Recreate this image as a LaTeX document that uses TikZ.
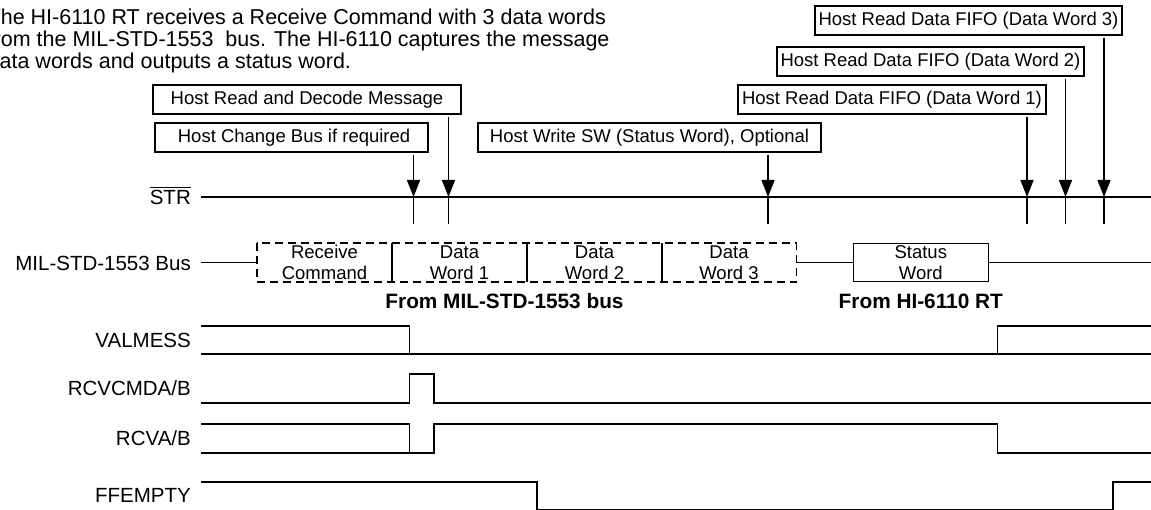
\documentclass[tikz,border=0pt]{standalone}
\usepackage{fontspec}
\setmainfont{Liberation Sans}
\usetikzlibrary{arrows.meta}
\newcommand\capfont{\fontsize{21.5}{22.2}\selectfont}
\newcommand\boxfont{\fontsize{18.5}{21}\selectfont}
\newcommand\sigfont{\fontsize{20.5}{22}\selectfont}
\newcommand\fromfont{\fontsize{20.8}{22}\selectfont\bfseries}
\newcommand\strbar[1]{\vbox{\hrule height 1.3pt\kern 1.6pt\hbox{#1}}}
\tikzset{
    % Text styles
    captext/.style={anchor=north west,align=left,inner sep=0pt,font=\capfont},
    siglabel/.style={anchor=east,inner sep=0pt,text height=14.7pt,text depth=0pt,font=\sigfont},
    fromlabel/.style={inner sep=0pt,font=\fromfont},
    % Boxes
    hostbox/.style={draw,line width=1.4pt,inner sep=0pt,minimum height=29pt,font=\boxfont},
    wordbox/.style={inner sep=0pt,minimum width=135pt,minimum height=38.4pt,align=center,font=\boxfont},
    % Lines
    wave/.style={line width=1.5pt,line join=miter},
    dashbox/.style={line width=1.5pt,dash pattern=on 8pt off 5pt},
    hostarrow/.style={-{Triangle[width=13pt,length=17pt]},line width=1.5pt,shorten <=2pt}
}
\begin{document}
\begin{tikzpicture}[x=1pt,y=-1pt]
    % Page
    \path[use as bounding box,fill=white] (0,0) rectangle (1151,510);

    % Description
    \node[captext] (caption) at (-12.5,8.6) {The HI-6110 RT receives a Receive Command with 3 data words\\from the MIL-STD-1553~ bus. The HI-6110 captures the message\\data words and outputs a status word.};

    % Host actions
    \node[hostbox,minimum width=308pt] (hostDecode) at (307,99.5) {Host Read and Decode Message};
    \node[hostbox,minimum width=273pt] (hostChg) at (291.5,137.5) {\ Host Change Bus if required};
    \node[hostbox,minimum width=343pt] (hostWrSW) at (649.5,137.5) {Host Write SW (Status Word), Optional};
    \node[hostbox,minimum width=308pt] (hostRd1) at (892,99.5) {Host Read Data FIFO (Data Word 1)};
    \node[hostbox,minimum width=307pt] (hostRd2) at (930.5,61.5) {Host Read Data FIFO (Data Word 2)};
    \node[hostbox,minimum width=307pt] (hostRd3) at (968.5,20.5) {Host Read Data FIFO (Data Word 3)};

    % Signal names
    \node[siglabel] (lblSTR) at (191,197) {\strbar{STR}};
    \node[siglabel] (lblBus) at (191,263) {MIL-STD-1553 Bus};
    \node[siglabel] (lblValmess) at (191,340) {VALMESS};
    \node[siglabel] (lblRcvCmd) at (191,388.5) {RCVCMDA/B};
    \node[siglabel] (lblRcv) at (191,438.5) {RCVA/B};
    \node[siglabel] (lblFFEmpty) at (191,495.5) {FFEMPTY};

    % STR line with host strobes
    \coordinate (strStart) at (201,197);
    \coordinate (strEnd) at (1152,197);
    \draw[wave] (strStart) -- (strEnd);
    \coordinate (evChg) at (413.5,197);
    \coordinate (evDecode) at (448.5,197);
    \coordinate (evWrSW) at (768,197);
    \coordinate (evRd1) at (1027,197);
    \coordinate (evRd2) at (1065.5,197);
    \coordinate (evRd3) at (1104,197);
    \foreach \ev/\host in {evChg/hostChg,evDecode/hostDecode,evWrSW/hostWrSW,evRd1/hostRd1,evRd2/hostRd2,evRd3/hostRd3}{
        \draw[hostarrow] (\host.south -| \ev) -- (\ev);
        \draw[wave] (\ev) -- ++(0,27);
    }

    % 1553 bus words
    \coordinate (busStart) at (201,262.5);
    \coordinate (busEnd) at (1152,262.5);
    \node[wordbox] (rcvCmd) at (324.5,262.5) {Receive\\Command};
    \node[wordbox] (dataW1) at (459.5,262.5) {Data\\Word 1};
    \node[wordbox] (dataW2) at (594.5,262.5) {Data\\Word 2};
    \node[wordbox] (dataW3) at (729,262.5) {Data\\Word 3};
    \draw[dashbox] (rcvCmd.north west) rectangle (dataW3.south east);
    \foreach \w in {rcvCmd,dataW1,dataW2}{
        \draw[wave] (\w.north east) -- (\w.south east);
    }
    \node[wordbox,draw,line width=1.5pt] (statusW) at (920.8,262.5) {Status\\Word};
    \draw[wave] (busStart) -- (rcvCmd.west);
    \draw[wave] (dataW3.east) -- (statusW.west);
    \draw[wave] (statusW.east) -- (busEnd);
    \node[fromlabel] (fromBus) at (504.5,301.5) {From MIL-STD-1553 bus};
    \node[fromlabel] (fromRT) at (920.8,301.5) {From HI-6110 RT};

    % VALMESS
    \draw[wave] (201,326) -- (409.5,326) -- (409.5,354);
    \draw[wave] (201,354) -- (1152,354);
    \draw[wave] (997.5,354) -- (997.5,326) -- (1152,326);

    % RCVCMDA/B
    \draw[wave] (201,403) -- (409.5,403) -- (409.5,374) -- (434,374) -- (434,403) -- (1152,403);

    % RCVA/B
    \draw[wave] (201,424) -- (409.5,424) -- (409.5,453) -- (434,453) -- (434,424) -- (997.5,424) -- (997.5,453) -- (1152,453);
    \draw[wave] (201,453) -- (409.5,453);

    % FFEMPTY
    \draw[wave] (201,482) -- (537,482) -- (537,509.5) -- (1113,509.5) -- (1113,482) -- (1152,482);
\end{tikzpicture}
\end{document}
